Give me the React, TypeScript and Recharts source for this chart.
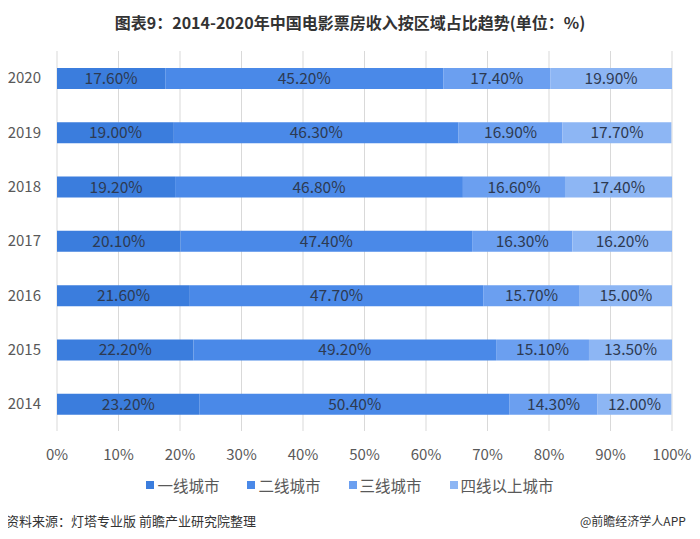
import { BarChart, Bar, XAxis, YAxis, CartesianGrid, LabelList } from 'recharts';

// top to bottom, as drawn
const years = ['2020', '2019', '2018', '2017', '2016', '2015', '2014'];
const tier1 = [17.6, 19.0, 19.2, 20.1, 21.6, 22.2, 23.2];
const tier2 = [45.2, 46.3, 46.8, 47.4, 47.7, 49.2, 50.4];
const tier3 = [17.4, 16.9, 16.6, 16.3, 15.7, 15.1, 14.3];
const tier4 = [19.9, 17.7, 17.4, 16.2, 15.0, 13.5, 12.0];
const xTicks = [0, 10, 20, 30, 40, 50, 60, 70, 80, 90, 100];

const seriesNames = ['一线城市', '二线城市', '三线城市', '四线以上城市'];
const colors = ['#3b7ddd', '#4a89e8', '#6b9ff0', '#8db6f4'];

const data = years.map((y, i) => ({
  year: y,
  t1: tier1[i],
  t2: tier2[i],
  t3: tier3[i],
  t4: tier4[i],
}));

const font = '"Noto Sans CJK SC", "Noto Sans", sans-serif';
const keys = ['t1', 't2', 't3', 't4'];

export default function App() {
  return (
    <div style={{ position: 'relative', width: 700, height: 539, margin: -8, background: '#fff', fontFamily: font, overflow: 'hidden' }}>
      <div style={{ position: 'absolute', top: 10, left: 0, width: 700, textAlign: 'center', fontSize: 16, fontWeight: 700, color: '#333' }}>
        图表9：2014-2020年中国电影票房收入按区域占比趋势(单位：%)
      </div>
      <BarChart
        width={700}
        height={539}
        data={data}
        layout="vertical"
        margin={{ top: 51, right: 28, bottom: 78, left: 0 }}
        barSize={21}
      >
        <CartesianGrid horizontal={false} stroke="#d9d9d9" />
        <XAxis
          type="number"
          domain={[0, 100]}
          ticks={xTicks}
          allowDataOverflow
          tickFormatter={(v) => `${v}%`}
          axisLine={false}
          tickLine={false}
          tickMargin={12}
          height={30}
          tick={{ fontSize: 15, fill: '#595959', fontFamily: font }}
        />
        <YAxis
          type="category"
          dataKey="year"
          width={57}
          axisLine={false}
          tickLine={false}
          tickSize={0}
          tickMargin={16}
          tick={{ fontSize: 15, fill: '#595959', fontFamily: font }}
        />
        {keys.map((k, i) => (
          <Bar key={k} dataKey={k} stackId="a" fill={colors[i]} name={seriesNames[i]} isAnimationActive={false}>
            <LabelList
              dataKey={k}
              position="center"
              formatter={(v: number) => `${v.toFixed(2)}%`}
              style={{ fontSize: 15.5, fill: '#2d3a52', fontFamily: font }}
            />
          </Bar>
        ))}
      </BarChart>
      <div style={{ position: 'absolute', top: 474, left: 0, width: 700, display: 'flex', justifyContent: 'center', gap: 28, fontSize: 15.5, color: '#595959' }}>
        {seriesNames.map((n, i) => (
          <div key={n} style={{ display: 'flex', alignItems: 'center' }}>
            <span style={{ display: 'inline-block', width: 8, height: 8, background: colors[i], marginRight: 3 }} />
            {n}
          </div>
        ))}
      </div>
      <div style={{ position: 'absolute', top: 511, left: 6, fontSize: 13, color: '#333' }}>
        资料来源：灯塔专业版 前瞻产业研究院整理
      </div>
      <div style={{ position: 'absolute', top: 512, left: 580, fontSize: 12, color: '#333', whiteSpace: 'nowrap' }}>
        @前瞻经济学人APP
      </div>
    </div>
  );
}
